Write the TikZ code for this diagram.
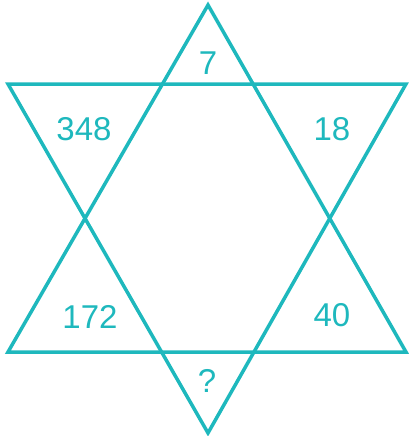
\documentclass[tikz,border=0pt]{standalone}
\usepackage{fontspec}
\setmainfont{Liberation Sans}
\usetikzlibrary{calc}
\definecolor{starteal}{RGB}{30,184,189}

\begin{document}
\begin{tikzpicture}[
  x=1pt, y=-1pt,
  edge/.style={draw=starteal, line width=3.5pt, line join=miter},
  num/.style={text=starteal, font=\fontsize{33}{36}\selectfont, inner sep=0pt}
]
\useasboundingbox (0,0) rectangle (408,436);

% corners of the two triangles
\coordinate (up) at (208,5);
\coordinate (upl) at (8,352);
\coordinate (upr) at (406,352);
\coordinate (dnl) at (8,84);
\coordinate (dnr) at (406,84);
\coordinate (dn) at (208,433);

\draw[edge] (up) -- (upr) -- (upl) -- cycle;
\draw[edge] (dnl) -- (dnr) -- (dn) -- cycle;

\node[num] (top) at (208,63) {7};
\node[num] (tl) at (84,129) {348};
\node[num] (tr) at (332,129) {18};
\node[num] (bl) at (90,317) {172};
\node[num] (br) at (332,315) {40};
\node[num] (bot) at (207,381) {?};

\end{tikzpicture}
\end{document}
